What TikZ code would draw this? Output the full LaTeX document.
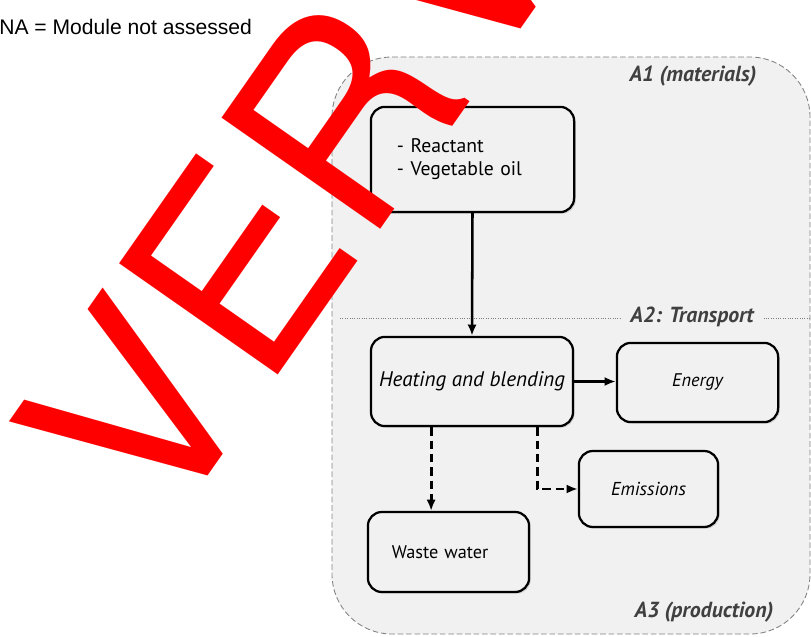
\documentclass[tikz,border=0pt]{standalone}
\usepackage{fontspec}
\setmainfont{PT Sans}
\newfontfamily\notefont{Liberation Sans}
\newfontfamily\markfont[Kerning=Off]{TeX Gyre Heros}
\usepackage{tikz}
\usetikzlibrary{arrows.meta, calc, positioning, shadows}
\definecolor{panelgray}{HTML}{F1F1F1}
\definecolor{labelgray}{HTML}{404040}
\definecolor{markred}{HTML}{FF0000}

\begin{document}
\begin{tikzpicture}[x=0.025cm, y=-0.025cm,
		box/.style={draw, line width=1.6pt, rounded corners=0.35cm, fill=panelgray, inner sep=0pt,
			drop shadow={shadow xshift=1.2pt, shadow yshift=-1.2pt, opacity=0.25}},
		zone/.style={font=\fontsize{15.5}{18}\selectfont\bfseries\itshape, text=labelgray, inner sep=0pt},
		flow/.style={->, >={Latex[length=8pt,width=6.5pt]}, line width=1.8pt},
		sideflow/.style={flow, line width=2pt, dash pattern=on 6pt off 3.5pt}]
		\useasboundingbox (0,0) rectangle (811,637);

		\node(note)  [anchor=base west, inner sep=0pt, font=\notefont\fontsize{15}{18}\selectfont] at (-1,35)  {NA = Module not assessed};

		% module region A1-A3
		\draw[gray, line width=0.6pt, dash pattern=on 4pt off 2pt, fill=panelgray, rounded corners=1.5cm] (332,57) rectangle (810,634);

		\node(a1)  [zone] at (693,76)  {A1 (materials)};
		\node(a2)  [zone, inner xsep=7pt] at (692,317)  {A2: Transport};
		\node(a3)  [zone] at (704,612)  {A3 (production)};

		\coordinate(sepL) at (340,318);
		\coordinate(sepR) at (811,318);
		\draw[densely dotted, gray, line width=0.7pt] (sepL) -- (sepL -| a2.west) (a2.east |- sepR) -- (sepR);

		\node(react)  [box, minimum width=5.08cm, minimum height=2.63cm, text width=3.78cm, inner xsep=0.65cm, align=left, font=\fontsize{14}{16.5}\selectfont] at (472.5,159.5)  {- Reactant\\- Vegetable oil};
		\node(heat)  [box, minimum width=5.05cm, minimum height=2.23cm, font=\itshape\fontsize{15}{18}\selectfont] at (472,381.5)  {Heating and blending};
		\node(energy)  [box, minimum width=4.03cm, minimum height=1.98cm, font=\itshape\fontsize{13}{15}\selectfont] at (697.5,382.5)  {Energy};
		\node(emis)  [box, minimum width=3.48cm, minimum height=1.9cm, font=\itshape\fontsize{13.3}{15}\selectfont] at (648.5,489)  {Emissions};
		\node(waste)  [box, minimum width=4.03cm, minimum height=2cm, text width=2.83cm, inner xsep=0.6cm, align=left, font=\fontsize{13}{15}\selectfont] at (448.5,552)  {Waste water};

		\draw[flow] (react.south) -- (heat.north);
		\draw[flow] (heat.east) -- (energy.west |- heat.east);
		\draw[sideflow] ($(heat.south west)!0.3!(heat.south east)$) coordinate(hw) -- (hw |- waste.north);
		\draw[sideflow] ($(heat.south west)!0.82!(heat.south east)$) |- (emis.west);

		% watermark
		\begin{scope}
			\clip (0,0) rectangle (811,637);
			\node(mark)  [rotate=55, anchor=base west, inner sep=0pt, text=markred, font=\markfont\fontsize{189}{189}\selectfont] at (163,540)  {VERVALLEN};
		\end{scope}
\end{tikzpicture}
\end{document}
